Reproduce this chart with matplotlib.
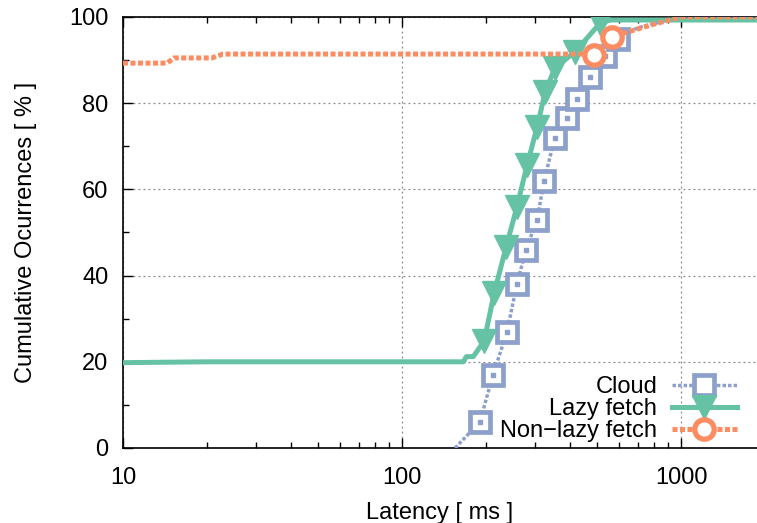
import matplotlib
matplotlib.use('Agg')
import matplotlib.pyplot as plt
from matplotlib.ticker import LogLocator, FixedLocator, NullFormatter, MultipleLocator

plt.rcParams['font.family'] = ['Liberation Sans', 'DejaVu Sans']

# Cloud (dotted blue, square markers)
cloud_x = [155, 190, 212, 238, 258, 278, 305, 323, 353, 390, 424, 472, 535, 595, 700, 842, 1000, 1872]
cloud_y = [0, 6, 17, 27, 38, 46, 53, 62, 72, 76.5, 81, 86, 91, 95, 97.5, 98.8, 99.8, 100]
cloud_mk_x = [190, 212, 238, 258, 278, 305, 323, 353, 390, 424, 472, 535, 595]
cloud_mk_y = [6, 17, 27, 38, 46, 53, 62, 72, 76.5, 81, 86, 91, 95]

# Lazy fetch (solid green, triangle markers)
lazy_x = [10, 20, 166, 170, 180, 197, 214, 236, 258, 281, 305, 326, 353, 417, 513, 560, 1872]
lazy_y = [19.8, 20, 20, 21.2, 21.2, 24.8, 36, 46.6, 55.9, 65.7, 74.5, 82.6, 88.2, 91.9, 98.6, 99.3, 99.3]
lazy_mk_x = [197, 214, 236, 258, 281, 305, 326, 353, 417, 513]
lazy_mk_y = [24.8, 36, 46.6, 55.9, 65.7, 74.5, 82.6, 88.2, 91.9, 98.6]

# Non-lazy fetch (dotted orange, circle markers)
nonlazy_x = [10, 14.4, 15.2, 20.8, 22.8, 480, 487, 566, 775, 1000, 1872]
nonlazy_y = [89.3, 89.3, 90.5, 90.5, 91.4, 91.4, 91.2, 95.4, 98.1, 100, 100]
nonlazy_mk_x = [487, 566]
nonlazy_mk_y = [91.2, 95.4]

labels = ['Cloud', 'Lazy fetch', 'Non\u2212lazy fetch']

blue = '#8DA0CB'
green = '#66C2A5'
orange = '#FC8D62'

FS = 17

fig = plt.figure(figsize=(7.57, 5.23), dpi=100)
ax = fig.add_axes([123 / 757, 75 / 523, 634 / 757, 431 / 523])

# linien
ax.plot(cloud_x, cloud_y, color=blue, linestyle=(0, (1, 0.6)), linewidth=2.5, zorder=3)
ax.plot(cloud_mk_x, cloud_mk_y, linestyle='none', marker='s', markersize=14.5,
        markerfacecolor='white', markeredgecolor=blue, markeredgewidth=3.4, zorder=4)
ax.plot(cloud_mk_x, cloud_mk_y, linestyle='none', marker='s', markersize=3, color=blue, zorder=5)

ax.plot(lazy_x, lazy_y, color=green, linewidth=3.6, zorder=5)
ax.plot(lazy_mk_x, lazy_mk_y, linestyle='none', marker='v', markersize=17, color=green, zorder=6)

ax.plot(nonlazy_x, nonlazy_y, color=orange, linestyle=(0, (1, 0.5)), linewidth=3.6, zorder=6)
ax.plot(nonlazy_mk_x, nonlazy_mk_y, linestyle='none', marker='o', markersize=14,
        markerfacecolor='white', markeredgecolor=orange, markeredgewidth=3.8, zorder=7)

# legende im gnuplot-stil (text links, muster rechts)
h1, = ax.plot([], [], color=blue, linestyle=(0, (1, 0.6)), linewidth=2.5, marker='s', markersize=14.5,
              markerfacecolor='white', markeredgecolor=blue, markeredgewidth=3.4)
h2, = ax.plot([], [], color=green, linewidth=3.6, marker='v', markersize=17)
h3, = ax.plot([], [], color=orange, linestyle=(0, (1, 0.5)), linewidth=3.6, marker='o', markersize=14,
              markerfacecolor='white', markeredgecolor=orange, markeredgewidth=3.8)
ax.legend([h1, h2, h3], labels, loc='lower right',
          markerfirst=False, frameon=False, fontsize=FS, handlelength=2.75, handletextpad=0.62,
          labelspacing=0.0, borderpad=0, borderaxespad=0, bbox_to_anchor=(0.968, 0.013))

ax.set_xscale('log')
ax.set_xlim(10, 1872)
ax.set_ylim(0, 100)
ax.xaxis.set_major_locator(FixedLocator([10, 100, 1000]))
ax.xaxis.set_minor_locator(LogLocator(base=10, subs=range(2, 10)))
ax.xaxis.set_minor_formatter(NullFormatter())
ax.set_xticklabels(['10', '100', '1000'])
ax.set_yticks([0, 20, 40, 60, 80, 100])
ax.yaxis.set_minor_locator(MultipleLocator(10))

ax.tick_params(which='both', direction='in', top=True, right=False, labelsize=FS)
ax.tick_params(which='major', length=7, width=1)
ax.tick_params(which='minor', length=4, width=1)
ax.tick_params(axis='x', pad=14)
ax.tick_params(axis='y', pad=10.5)

ax.grid(True, which='major', color='#888888', linestyle=(0, (1.5, 2.5)), linewidth=0.9)
ax.set_axisbelow(True)
ax.spines['right'].set_visible(False)
for s in ['left', 'top', 'bottom']:
    ax.spines[s].set_linewidth(1.2)

ax.set_xlabel('Latency [ ms ]', fontsize=FS, labelpad=9)
ax.set_ylabel('Cumulative Ocurrences [ % ]', fontsize=FS, labelpad=23)

fig.savefig('out.png', dpi=100)
